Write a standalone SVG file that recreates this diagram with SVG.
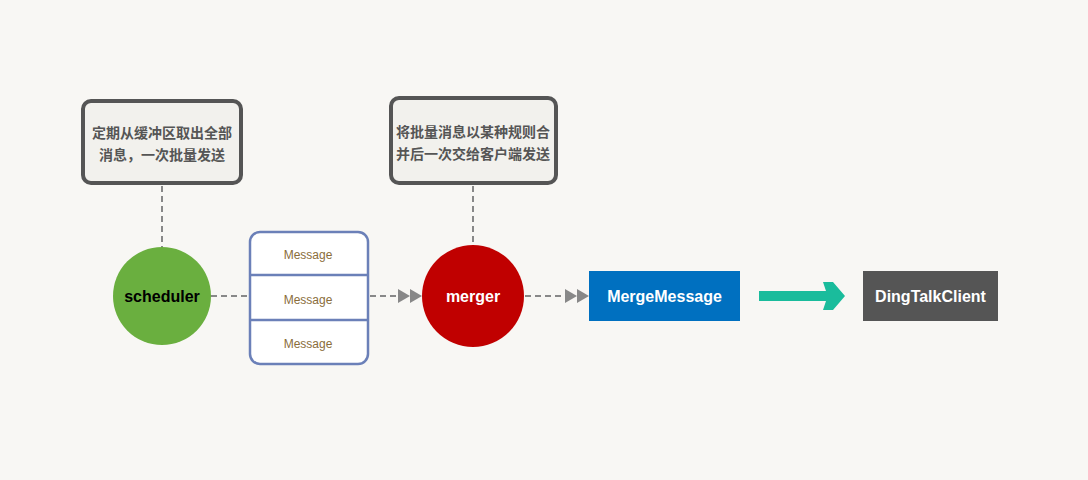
<svg xmlns="http://www.w3.org/2000/svg" width="1088" height="480" viewBox="0 0 1088 480">
<style>
.note{fill:#f2f1ed;stroke:#555;stroke-width:4}
.nt{font-family:"Noto Sans CJK SC","Liberation Sans",sans-serif;font-size:14px;font-weight:bold;fill:#555;text-anchor:middle}
.dash{stroke:#888;stroke-width:2;stroke-dasharray:6,4;fill:none}
.lbl{font-family:"Liberation Sans",Arial,sans-serif;font-size:16px;font-weight:bold;text-anchor:middle}
.msg{font-family:"Liberation Sans",Arial,sans-serif;font-size:12px;fill:#8a6d3b;text-anchor:middle}
.ah{fill:#888}
</style>
<rect width="1088" height="480" fill="#f8f7f4"/>
<g id="connectors">
<line class="dash" x1="162" y1="186" x2="162" y2="247"/>
<line class="dash" x1="473" y1="186" x2="473" y2="245"/>
<line class="dash" x1="211" y1="296" x2="249" y2="296"/>
<line class="dash" x1="370" y1="296" x2="399" y2="296"/>
<polygon class="ah" points="398,289 410,296 398,303"/>
<polygon class="ah" points="410,289 422,296 410,303"/>
<line class="dash" x1="525" y1="296" x2="566" y2="296"/>
<polygon class="ah" points="565,289 577,296 565,303"/>
<polygon class="ah" points="577,289 589,296 577,303"/>
<polygon fill="#1abc9c" points="759,291 826,291 823,282 833,282 845,296 833,310 823,310 826,301 759,301"/>
</g>
<g id="note1">
<rect class="note" x="83" y="101" width="158" height="82" rx="8"/>
<text class="nt" x="162" y="138">定期从缓冲区取出全部</text>
<text class="nt" x="162" y="160">消息，一次批量发送</text>
</g>
<g id="note2">
<rect class="note" x="391" y="98" width="165" height="85" rx="8"/>
<text class="nt" x="473" y="137">将批量消息以某种规则合</text>
<text class="nt" x="473" y="159">并后一次交给客户端发送</text>
</g>
<g id="scheduler">
<circle cx="162" cy="296" r="49" fill="#6aaf3f"/>
<text class="lbl" x="162" y="302" fill="#000">scheduler</text>
</g>
<g id="buffer">
<rect x="250" y="232" width="118" height="132" rx="10" fill="#fff" stroke="#6b80b8" stroke-width="2.5"/>
<line x1="250" y1="275" x2="368" y2="275" stroke="#6b80b8" stroke-width="2.5"/>
<line x1="250" y1="320" x2="368" y2="320" stroke="#6b80b8" stroke-width="2.5"/>
<text class="msg" x="308" y="259">Message</text>
<text class="msg" x="308" y="304">Message</text>
<text class="msg" x="308" y="348">Message</text>
</g>
<g id="merger">
<circle cx="473" cy="296" r="51" fill="#c00000"/>
<text class="lbl" x="473" y="302" fill="#fff">merger</text>
</g>
<g id="mergemessage">
<rect x="589" y="271" width="151" height="50" fill="#0070c0"/>
<text class="lbl" x="664.5" y="302" fill="#fff">MergeMessage</text>
</g>
<g id="dingtalkclient">
<rect x="863" y="271" width="135" height="50" fill="#555"/>
<text class="lbl" x="930.5" y="302" fill="#fff">DingTalkClient</text>
</g>
</svg>
